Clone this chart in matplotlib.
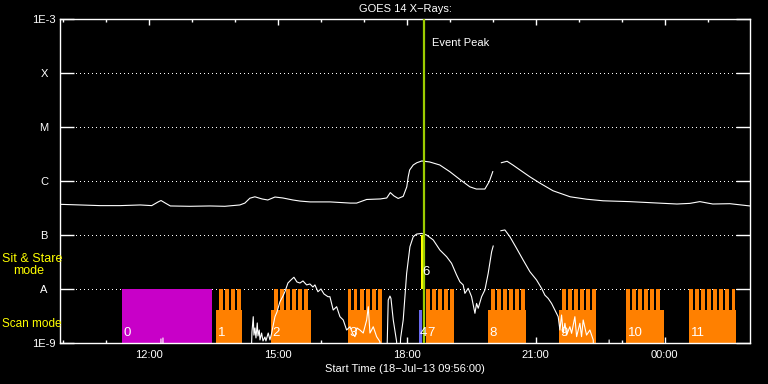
import numpy as np
import matplotlib
matplotlib.use('Agg')
import matplotlib.pyplot as plt
import matplotlib.dates as mdates
from matplotlib.ticker import FixedLocator, NullLocator

nan = np.nan
LOW = 1e-10  # below the plotted range (off scale)

# Start of the plot and its length (minutes)
t0 = np.datetime64('2013-07-18T09:56')
span_min = 963

# GOES 14 long channel (1-8 A), minutes after start, W/m^2
long_min = [0, 28, 56, 84, 112, 128, 137, 141, 147, 154, 181, 209, 230, 251, 258,
            265, 272, 282, 290, 300, 311, 325, 335, 349, 377, 405, 414, 428, 447, 456,
            461, 466, 472, 479, 484, 486, 488, 493, 498, 505, 516, 530, 544, 558, 572,
            581, 593, 599, 604, 605, 616, 624, 632, 642, 656, 670, 688, 712, 735, 758,
            795, 827, 861, 879, 893, 911, 935, 963]
long_flux = [3.7e-7, 3.6e-7, 3.5e-7, 3.5e-7, 3.6e-7, 3.5e-7, 4.1e-7, 4.35e-7, 3.9e-7, 3.45e-7,
             3.4e-7, 3.45e-7, 3.4e-7, 3.6e-7, 3.9e-7, 4.8e-7, 5.1e-7, 4.65e-7, 4.45e-7, 5.05e-7,
             4.85e-7, 4.45e-7, 4.25e-7, 4.1e-7, 4.1e-7, 3.9e-7, 3.9e-7, 4.55e-7, 4.65e-7, 4.85e-7,
             6.1e-7, 5.3e-7, 4.75e-7, 5.2e-7, 7.8e-7, 1.2e-6, 1.6e-6, 1.98e-6, 2.18e-6, 2.35e-6,
             2.25e-6, 1.98e-6, 1.49e-6, 1.07e-6, 7.8e-7, 7.1e-7, 7.1e-7, 9.7e-7, 1.49e-6, nan,
             2.18e-6, 2.32e-6, 1.98e-6, 1.6e-6, 1.19e-6, 9.1e-7, 6.6e-7, 5.1e-7, 4.6e-7, 4.3e-7,
             4.15e-7, 3.95e-7, 3.75e-7, 3.85e-7, 4.15e-7, 3.75e-7, 3.8e-7, 3.45e-7]

# GOES 14 short channel (0.5-4 A)
short_min = [0, 139.5, 140.9, 142.3, 143.7, 145.1, 265.1, 267.9, 269.7, 270.7, 272.1, 273.5,
             275.3, 276.3, 278.1, 279.1, 281.4, 283.3, 286.0, 287.4, 290.6, 293.0, 295.4, 300.0,
             302.8, 307.0, 311.2, 313.9, 318.1, 322.3, 326.5, 330.7, 334.9, 339.1, 344.2, 348.8,
             353.0, 355.8, 360.0, 364.2, 368.4, 374.0, 376.7, 381.3, 386.1, 390.7, 395.3, 400.0,
             404.7, 408.8, 411.6, 414.4, 418.6, 423.2, 428.0, 430.2, 432.6, 437.2, 441.9, 446.5,
             449.3, 454.9, 458.1, 460.5, 461.9, 465.1, 469.8, 471.6, 475.4, 479.0, 483.8, 488.4,
             493.0, 497.7, 504.7, 511.7, 520.9, 530.2, 539.6, 546.5, 553.5, 558.1, 562.7, 565.1,
             569.7, 574.4, 579.1, 581.4, 583.7, 588.4, 593.0, 597.6, 602.4, 604.6, 606, 615.3,
             620.9, 627.9, 637.2, 646.4, 655.8, 665.1, 672.1, 676.7, 681.3, 686.1, 690.7, 695.3,
             697.7, 700.0, 702.3, 704.7, 707.0, 711.6, 714.0, 718.6, 721.0, 725.6, 727.9, 730.2,
             734.9, 739.5, 744.2, 746.5, 764.6, 766.4, 768.8, 963]
short_flux = [LOW, LOW, 1.19e-9, LOW, 1.24e-9, LOW, LOW, 1.6e-9, 3.07e-9, 1.4e-9, 1.9e-9, 1.24e-9,
              2.35e-9, 1.35e-9, 1.74e-9, 1.14e-9, 1.53e-9, 1.09e-9, 1.29e-9, 1.09e-9, 1.53e-9, 1.14e-9, 1.53e-9, 3.07e-9,
              3.75e-9, 5.82e-9, 7.4e-9, 8.9e-9, 1.29e-8, 1.47e-8, 1.65e-8, 1.35e-8, 1.29e-8, 1.41e-8, 1.19e-8, 1.24e-8,
              1.09e-8, 1.19e-8, 8.9e-9, 1.0e-8, 8.1e-9, 7.2e-9, 7.2e-9, 4.08e-9, 4.7e-9, 3.07e-9, 2.67e-9, 1.74e-9,
              2.0e-9, 1.47e-9, 1.31e-9, 1.9e-9, 1.74e-9, 1.53e-9, 2.67e-9, 4.7e-9, 1.53e-9, 2.0e-9, 1.31e-9, 1.06e-9,
              LOW, LOW, 6.25e-9, 7.4e-9, 6.7e-9, 2.67e-9, 1.06e-9, LOW, 1.24e-9, 2.67e-9, 1.95e-8, 6.07e-8,
              9.3e-8, 1.04e-7, 1.07e-7, 1.0e-7, 8.1e-8, 5.27e-8, 3.96e-8, 2.99e-8, 1.82e-8, 1.36e-8, 1.19e-8, 8.3e-9,
              1.03e-8, 7.2e-9, 3.55e-9, 5.4e-9, 4.4e-9, 7.2e-9, 9.6e-9, 1.95e-8, 4.9e-8, 6.25e-8, nan, 1.2e-7,
              1.24e-7, 9.3e-8, 5.67e-8, 3.44e-8, 2.09e-8, 1.47e-8, 1.03e-8, 7.7e-9, 6.7e-9, 5.4e-9, 4.08e-9, 3.07e-9,
              1.74e-9, 3.3e-9, 1.51e-9, 2.32e-9, 1.4e-9, 2.0e-9, 1.51e-9, 3.07e-9, 1.31e-9, 2.32e-9, 1.31e-9, 2.67e-9,
              1.4e-9, 1.74e-9, 1.14e-9, LOW, LOW, 1.14e-9, LOW, LOW]

# Observation modes (minutes after start)
scan_labels = ['1', '2', '3', '7', '8', '9', '10', '11']
scan_start = [217.7, 294.4, 401.4, 510.7, 597.2, 696.3, 789.8, 877.7]
scan_end = [253.5, 349.8, 448.9, 549.8, 650.2, 747.9, 842.4, 942.8]
scan_first_step = [221.9, 298.6, 401.4, 510.7, 601.4, 700.5, 789.8, 877.7]
scan_steps = [4, 6, 6, 5, 6, 6, 6, 8]
step_every, step_len = 8.5, 5.2

stare_label, stare_start, stare_end = '0', 86.1, 211.7        # magenta block
blue_label, blue_start, blue_end = '4', 500.9, 504.7
sit_label, sit_start, sit_end = '6', 503.7, 507.9             # yellow block
peak_min = 507.9

level_vals = [1e-9, 1e-8, 1e-7, 1e-6, 1e-5, 1e-4, 1e-3]
level_names = ['1E-9', 'A', 'B', 'C', 'M', 'X', '1E-3']

base = mdates.date2num(t0)
def tx(m):
    return base + np.asarray(m, dtype=float) / 1440.0

plt.rcParams['font.family'] = ['Liberation Sans', 'DejaVu Sans']
fig = plt.figure(figsize=(7.68, 3.84), dpi=100, facecolor='black')
ax = fig.add_axes([60 / 768, 41 / 384, 690 / 768, 324 / 384], facecolor='black')
ax.set_yscale('log')
ax.set_ylim(1e-9, 1e-3)
ax.set_xlim(tx(0), tx(span_min))

# dotted level lines
for v in level_vals[1:-1]:
    ax.axhline(v, color='white', lw=0.72, ls=(0, (1, 3)), antialiased=False, zorder=1)

orange = '#ff8000'
scan_top = 4.1e-9
for lab, s, e, f, n in zip(scan_labels, scan_start, scan_end, scan_first_step, scan_steps):
    ax.bar(tx(s), scan_top - 1e-9, width=(e - s) / 1440, bottom=1e-9, align='edge',
           color=orange, lw=0, zorder=2)
    steps = f + step_every * np.arange(n)
    ax.bar(tx(steps), 1e-8 - scan_top, width=step_len / 1440, bottom=scan_top,
           align='edge', color=orange, lw=0, zorder=2)
    ax.text(tx(s + 2.5), 1.55e-9, lab, color='white', fontsize=9.5, va='center', zorder=5)

ax.bar(tx(stare_start), 1e-8 - 1e-9, width=(stare_end - stare_start) / 1440, bottom=1e-9,
       align='edge', color='#c800c8', lw=0, zorder=2)
ax.text(tx(stare_start + 3), 1.55e-9, stare_label, color='white', fontsize=9.5, va='center', zorder=5)

ax.bar(tx(blue_start), scan_top - 1e-9, width=(blue_end - blue_start) / 1440, bottom=1e-9,
       align='edge', color='#6a6af0', lw=0, zorder=2)
ax.text(tx(blue_start + 1), 1.55e-9, blue_label, color='white', fontsize=9.5, va='center', zorder=5)

ax.bar(tx(sit_start), 1e-7 - 1e-8, width=(sit_end - sit_start) / 1440, bottom=1e-8,
       align='edge', color='#ffff00', lw=0, zorder=2)
ax.text(tx(sit_start + 2.5), 2.1e-8, sit_label, color='white', fontsize=9.5, va='center', zorder=5)

# X-ray curves
ax.plot(tx(long_min), long_flux, color='white', lw=0.8, zorder=3)
ax.plot(tx(short_min), short_flux, color='white', lw=0.8, zorder=3)

# event peak
ax.axvline(tx(peak_min), color='#9ccc00', lw=1.6, zorder=4)
ax.annotate('Event Peak', xy=(tx(peak_min), 0.925), xycoords=('data', 'axes fraction'),
            xytext=(6, 0), textcoords='offset points', color='white', fontsize=8, va='center')

# axes styling
for sp in ax.spines.values():
    sp.set_color('white')
    sp.set_linewidth(1)

ax.xaxis_date()
ax.xaxis.set_major_locator(mdates.HourLocator(byhour=range(0, 24, 3)))
ax.xaxis.set_minor_locator(mdates.HourLocator())
ax.xaxis.set_major_formatter(mdates.DateFormatter('%H:%M'))
ax.tick_params(axis='x', which='major', direction='in', length=4.3, width=1,
               top=True, bottom=True, colors='white', labelsize=8, pad=5)
ax.tick_params(axis='x', which='minor', direction='in', length=2.5, width=1,
               top=True, bottom=True, colors='white')

ax.yaxis.set_major_locator(FixedLocator(level_vals))
ax.yaxis.set_minor_locator(NullLocator())
ax.set_yticklabels(level_names)
ax.tick_params(axis='y', which='major', direction='in', length=10, width=1,
               left=True, right=True, colors='white', labelsize=8, pad=11.5)
for lab in ax.get_yticklabels():
    lab.set_horizontalalignment('center')

ax.set_title('GOES 14 X\u2212Rays:', color='white', fontsize=8, pad=5)
ax.set_xlabel('Start Time (18\u2212Jul\u221213 09:56:00)', color='white', fontsize=8, labelpad=3)

# mode captions
fig.text(2 / 768, 1 - 259 / 384, 'Sit & Stare', color='#ffff00', fontsize=9, va='center')
fig.text(13 / 768, 1 - 271 / 384, 'mode', color='#ffff00', fontsize=9, va='center')
fig.text(2 / 768, 1 - 324 / 384, 'Scan mode', color='#ffff00', fontsize=8.5, va='center')

fig.savefig('out.png', dpi=100, facecolor='black')
